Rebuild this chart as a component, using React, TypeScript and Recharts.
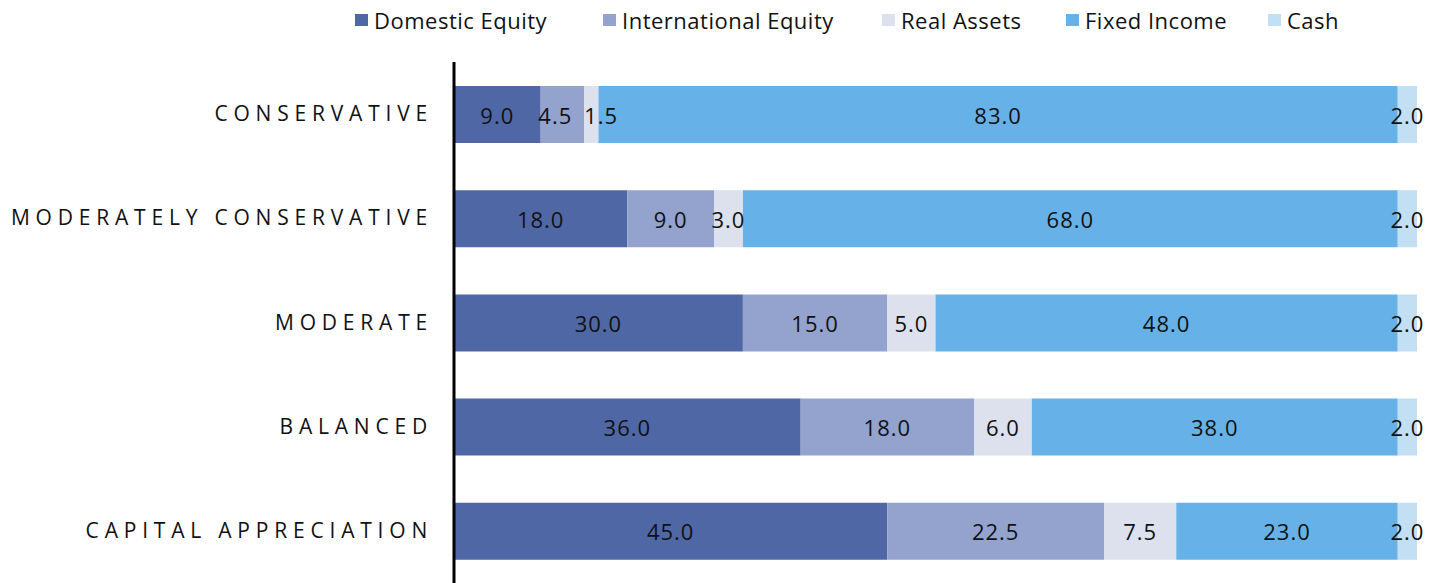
import React from 'react';
import { BarChart, Bar, XAxis, YAxis, Legend, LabelList } from 'recharts';

const portfolios = ['CONSERVATIVE', 'MODERATELY CONSERVATIVE', 'MODERATE', 'BALANCED', 'CAPITAL APPRECIATION'];
const domesticEquity = [9.0, 18.0, 30.0, 36.0, 45.0];
const internationalEquity = [4.5, 9.0, 15.0, 18.0, 22.5];
const realAssets = [1.5, 3.0, 5.0, 6.0, 7.5];
const fixedIncome = [83.0, 68.0, 48.0, 38.0, 23.0];
const cash = [2.0, 2.0, 2.0, 2.0, 2.0];

const SERIES = [
  { key: 'domestic', name: 'Domestic Equity', color: '#4f67a5', left: 355 },
  { key: 'international', name: 'International Equity', color: '#93a3cd', left: 603 },
  { key: 'real', name: 'Real Assets', color: '#dde1ee', left: 882 },
  { key: 'fixed', name: 'Fixed Income', color: '#66b2e8', left: 1066 },
  { key: 'cash', name: 'Cash', color: '#c2dff4', left: 1268 },
];

const data = portfolios.map((name, i) => ({
  name,
  domestic: domesticEquity[i],
  international: internationalEquity[i],
  real: realAssets[i],
  fixed: fixedIncome[i],
  cash: cash[i],
}));

const FONT = '"Open Sans", sans-serif';

const CategoryTick = (props: any) => {
  const { x, y, payload } = props;
  return (
    <text
      x={x + 3}
      y={y}
      dy={7}
      textAnchor="end"
      fill="#111"
      fontSize={21}
      fontFamily={FONT}
      style={{ letterSpacing: '5.8px' }}
    >
      {payload.value}
    </text>
  );
};

// nudge labels apart where a segment is too thin for its text
const makeLabel = (seriesIdx: number) => (props: any) => {
  const { x, y, width, height, value, index } = props;
  const row = data[index] as any;
  const next = SERIES[seriesIdx + 1];
  let dx = 0;
  if (value < 1.8) dx = 10;
  else if (next && next.key !== 'cash' && row[next.key] < 1.8) dx = -7;
  return (
    <text
      x={x + width / 2 + dx}
      y={y + height / 2}
      textAnchor="middle"
      dominantBaseline="central"
      fill="#111"
      fontSize={22}
      fontFamily={FONT}
      style={{ letterSpacing: '1px' }}
    >
      {Number(value).toFixed(1)}
    </text>
  );
};

const TopLegend = () => (
  <div style={{ position: 'relative', width: 1437, height: 40, fontFamily: FONT }}>
    {SERIES.map((s) => (
      <div
        key={s.key}
        style={{ position: 'absolute', left: s.left, top: 5, display: 'flex', alignItems: 'center', whiteSpace: 'nowrap' }}
      >
        <span style={{ width: 13, height: 12, background: s.color, display: 'inline-block', marginRight: 6 }} />
        <span style={{ fontSize: 22, color: '#111', letterSpacing: '0.5px' }}>{s.name}</span>
      </div>
    ))}
  </div>
);

export default function App() {
  return (
    <div style={{ position: 'absolute', left: 0, top: 0, background: '#fff' }}>
      <BarChart
        width={1437}
        height={583}
        data={data}
        layout="vertical"
        margin={{ top: 22, right: 20, bottom: 0, left: 0 }}
        barSize={57}
      >
        <Legend verticalAlign="top" align="left" content={<TopLegend />} wrapperStyle={{ top: 0, left: 0 }} />
        <XAxis type="number" domain={[0, 100]} hide />
        <YAxis
          type="category"
          dataKey="name"
          width={454}
          axisLine={{ stroke: '#000', strokeWidth: 3 }}
          tickLine={false}
          tick={<CategoryTick />}
          tickMargin={18}
        />
        {SERIES.map((s, si) => (
          <Bar key={s.key} dataKey={s.key} name={s.name} stackId="a" fill={s.color} isAnimationActive={false}>
            <LabelList dataKey={s.key} content={makeLabel(si)} />
          </Bar>
        ))}
      </BarChart>
    </div>
  );
}
